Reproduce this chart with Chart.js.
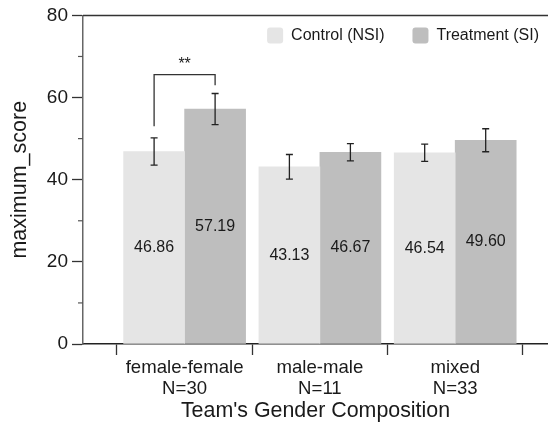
<!DOCTYPE html>
<html>
<head>
<meta charset="utf-8">
<script src="https://cdn.jsdelivr.net/npm/chart.js@4.4.1/dist/chart.umd.min.js"></script>
<style>
  html, body { margin: 0; padding: 0; background: #fff; }
</style>
</head>
<body>
<canvas id="barChart" width="548" height="429"></canvas>
<script>
const groups = ["female-female", "male-male", "mixed"];
const groupSizes = [30, 11, 33];
const controlMeans = [46.86, 43.13, 46.54];
const treatmentMeans = [57.19, 46.67, 49.60];
const controlErr = [3.3, 3.0, 2.1];
const treatmentErr = [3.8, 2.1, 2.8];
const yTicks = [0, 20, 40, 60, 80];
const yMinorTicks = [10, 30, 50, 70];
const xSeparators = [-0.5, 0.5, 1.5, 2.5];
// significance bracket over the first group
const sigGroup = 0;
const sigText = "**";
const sigLeftEnd = 53.0;
const sigRightEnd = 63.0;
const sigTop = 65.6;

Chart.defaults.font.family = "'Liberation Sans', Arial, Helvetica, sans-serif";
Chart.defaults.color = "#1a1a1a";

const extras = {
  id: "extras",
  afterLayout(chart) {
    // legend sits inside the plot, top right
    const lg = chart.legend;
    lg.top = -0.5;
    lg.bottom = 60;
    lg.height = 60.5;
    lg.left += 19;
    lg.right += 19;
  },
  afterDatasetsDraw(chart) {
    const ctx = chart.ctx;
    const y = chart.scales.y;
    ctx.save();
    chart.data.datasets.forEach((ds, di) => {
      const meta = chart.getDatasetMeta(di);
      meta.data.forEach((bar, i) => {
        const v = ds.data[i].y;
        const e = ds.errors[i];
        const top = y.getPixelForValue(v + e);
        const bot = y.getPixelForValue(v - e);
        ctx.strokeStyle = "#222";
        ctx.lineWidth = 1.3;
        ctx.beginPath();
        ctx.moveTo(bar.x, top); ctx.lineTo(bar.x, bot);
        ctx.moveTo(bar.x - 3.5, top); ctx.lineTo(bar.x + 3.5, top);
        ctx.moveTo(bar.x - 3.5, bot); ctx.lineTo(bar.x + 3.5, bot);
        ctx.stroke();
        // value label in the middle of the bar
        ctx.fillStyle = "#1a1a1a";
        ctx.font = "16px 'Liberation Sans', Arial, sans-serif";
        ctx.textAlign = "center";
        ctx.textBaseline = "middle";
        ctx.fillText(v.toFixed(2), bar.x, (bar.y + bar.base) / 2);
      });
    });
    ctx.restore();
  },
  afterDraw(chart) {
    const ctx = chart.ctx;
    const y = chart.scales.y;
    const area = chart.chartArea;
    ctx.save();
    // top frame line
    ctx.strokeStyle = "#333";
    ctx.lineWidth = 1.5;
    ctx.beginPath();
    ctx.moveTo(area.left, y.getPixelForValue(80));
    ctx.lineTo(area.right, y.getPixelForValue(80));
    ctx.stroke();
    // minor y ticks
    ctx.strokeStyle = "#555";
    ctx.lineWidth = 1.2;
    yMinorTicks.forEach(v => {
      const py = y.getPixelForValue(v);
      ctx.beginPath();
      ctx.moveTo(area.left - 5, py);
      ctx.lineTo(area.left, py);
      ctx.stroke();
    });
    // significance bracket
    const b0 = chart.getDatasetMeta(0).data[sigGroup];
    const b1 = chart.getDatasetMeta(1).data[sigGroup];
    const yt = y.getPixelForValue(sigTop);
    ctx.strokeStyle = "#333";
    ctx.lineWidth = 1.3;
    ctx.beginPath();
    ctx.moveTo(b0.x, y.getPixelForValue(sigLeftEnd));
    ctx.lineTo(b0.x, yt);
    ctx.lineTo(b1.x, yt);
    ctx.lineTo(b1.x, y.getPixelForValue(sigRightEnd));
    ctx.stroke();
    ctx.fillStyle = "#1a1a1a";
    ctx.font = "16px 'Liberation Sans', Arial, sans-serif";
    ctx.textAlign = "center";
    ctx.textBaseline = "middle";
    ctx.fillText(sigText, (b0.x + b1.x) / 2, yt - 10);
    ctx.restore();
  }
};

const ctx = document.getElementById("barChart").getContext("2d");
const chart = new Chart(ctx, {
  type: "bar",
  data: {
    datasets: [{
      label: "Control (NSI)",
      data: controlMeans.map((v, i) => ({ x: i, y: v })),
      errors: controlErr,
      backgroundColor: "#e5e5e5"
    }, {
      label: "Treatment (SI)",
      data: treatmentMeans.map((v, i) => ({ x: i, y: v })),
      errors: treatmentErr,
      backgroundColor: "#bebebe"
    }]
  },
  options: {
    responsive: false,
    animation: false,
    barThickness: 61,
    layout: { padding: { top: 14, right: 0, bottom: 0, left: 0 } },
    plugins: {
      tooltip: { enabled: false },
      legend: {
        position: "top",
        align: "end",
        maxHeight: 1,
        labels: {
          boxWidth: 16,
          boxHeight: 16,
          useBorderRadius: true,
          borderRadius: 3,
          padding: 28,
          color: "#1a1a1a",
          font: { size: 16 }
        }
      }
    },
    scales: {
      x: {
        type: "linear",
        min: -0.751,
        max: 2.686,
        offset: false,
        afterBuildTicks: s => {
          s.ticks = [-0.5, 0, 0.5, 1, 1.5, 2, 2.5].map(v => ({ value: v }));
        },
        afterFit: s => { s.height = 85; },
        grid: {
          offset: false,
          drawOnChartArea: false,
          tickLength: 11,
          tickWidth: 1.3,
          tickColor: c => (c.tick && xSeparators.includes(c.tick.value)) ? "#333" : "rgba(0,0,0,0)"
        },
        border: { color: "#222", width: 1.5 },
        ticks: {
          autoSkip: false,
          maxRotation: 0,
          padding: 2,
          color: "#1a1a1a",
          font: { size: 18.6, lineHeight: 1.14 },
          callback: v => Number.isInteger(v) ? [groups[v], "N=" + groupSizes[v]] : ""
        },
        title: {
          display: true,
          text: "Team's Gender Composition",
          color: "#1a1a1a",
          font: { size: 21.4, lineHeight: 1.2 },
          padding: { top: 0, bottom: 5 }
        }
      },
      y: {
        min: 0,
        max: 80,
        afterBuildTicks: s => { s.ticks = yTicks.map(v => ({ value: v })); },
        afterFit: s => { s.width = 83; },
        grid: { drawOnChartArea: false, tickLength: 11, tickWidth: 1.3, tickColor: "#333" },
        border: { color: "#666", width: 1.5 },
        ticks: { padding: 4, color: "#1a1a1a", font: { size: 19 } },
        title: {
          display: true,
          text: "maximum_score",
          color: "#1a1a1a",
          font: { size: 21.5, lineHeight: 1.2 },
          padding: { top: 7, bottom: 0 }
        }
      }
    }
  },
  plugins: [extras]
});
</script>
</body>
</html>
